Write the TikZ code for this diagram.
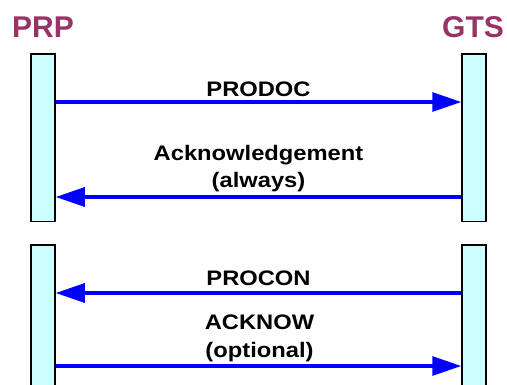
\documentclass[tikz,border=0pt]{standalone}
\usepackage{fontspec}
\setmainfont{Liberation Sans}
\newfontfamily\lblfont{Liberation Sans}[FakeStretch=1.13]
\usetikzlibrary{arrows.meta}
\definecolor{ttl}{HTML}{993366}
\definecolor{barfill}{HTML}{CCFFFF}
\definecolor{msgblue}{HTML}{0000FF}
\tikzset{
  bar/.style={draw=black, line width=1.5pt, fill=barfill, minimum width=24pt, inner sep=0pt},
  ttlstyle/.style={text=ttl, font=\fontsize{30}{30}\selectfont\bfseries, anchor=base, inner sep=0pt},
  lbl/.style={font=\lblfont\fontsize{21}{21}\selectfont\bfseries, anchor=base, inner sep=0pt},
  msg/.style={draw=msgblue, line width=3.2pt, -{Triangle[length=29pt,width=19pt]}}
}
\begin{document}
\begin{tikzpicture}[x=1pt,y=-1pt]
\useasboundingbox (0,0) rectangle (507,385);
\node[ttlstyle] (prp) at (43,38) {PRP};
\node[ttlstyle] (gts) at (473,38) {GTS};
\node[bar, minimum height=167.5pt] (L1) at (43,137.75) {};
\node[bar, minimum height=167.5pt] (R1) at (474,137.75) {};
\node[bar, minimum height=150pt] (L2) at (43,320) {};
\node[bar, minimum height=150pt] (R2) at (474,320) {};
\coordinate (y1) at (258,102);
\coordinate (y2) at (258,197);
\coordinate (y3) at (258,293);
\coordinate (y4) at (258,366);
\draw[msg] (L1.east |- y1) -- (R1.west |- y1);
\draw[msg] (R1.west |- y2) -- (L1.east |- y2);
\draw[msg] (R2.west |- y3) -- (L2.east |- y3);
\draw[msg] (L2.east |- y4) -- (R2.west |- y4);
\node[lbl] (prodoc) at (258.5,97) {PRODOC};
\node[lbl] (ack1) at (258.5,161) {Acknowledgement};
\node[lbl] (ack2) at (258.5,187.5) {(always)};
\node[lbl] (procon) at (258.5,286) {PROCON};
\node[lbl] (ackn1) at (259.5,330) {ACKNOW};
\node[lbl] (ackn2) at (259.5,357.5) {(optional)};
\end{tikzpicture}
\end{document}
